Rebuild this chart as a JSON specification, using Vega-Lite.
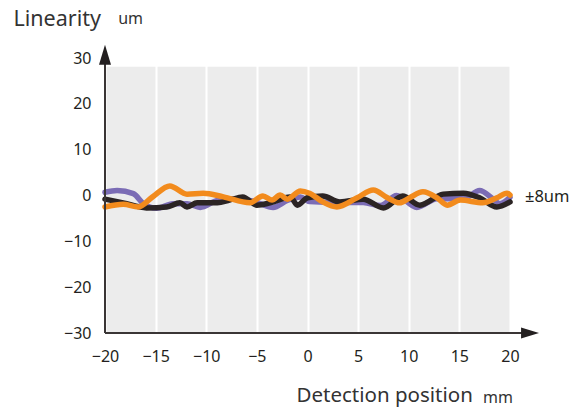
{
  "$schema": "https://vega.github.io/schema/vega-lite/v6.json",
  "width": 405,
  "height": 275,
  "autosize": {"type": "none"},
  "padding": {"left": 105, "top": 58, "right": 69, "bottom": 76},
  "background": "white",
  "config": {"view": {"stroke": null, "fill": "#ececec"}, "font": "Noto Sans"},
  "datasets": {
    "one": [{}],
    "lines": [
      {"series": "1", "position": -20, "value": 0.7},
      {"series": "1", "position": -18.8, "value": 1.1},
      {"series": "1", "position": -17.2, "value": 0.4},
      {"series": "1", "position": -16.2, "value": -1.8},
      {"series": "1", "position": -14.9, "value": -2.8},
      {"series": "1", "position": -13.3, "value": -1.8},
      {"series": "1", "position": -11.9, "value": -1.8},
      {"series": "1", "position": -10.6, "value": -2.6},
      {"series": "1", "position": -8.9, "value": -1.1},
      {"series": "1", "position": -6.7, "value": -0.7},
      {"series": "1", "position": -5.0, "value": -1.5},
      {"series": "1", "position": -3.4, "value": -2.6},
      {"series": "1", "position": -2.0, "value": -1.1},
      {"series": "1", "position": -0.7, "value": -0.3},
      {"series": "1", "position": 0.2, "value": -1.3},
      {"series": "1", "position": 3.2, "value": -1.5},
      {"series": "1", "position": 5.5, "value": -1.5},
      {"series": "1", "position": 7.2, "value": -2.2},
      {"series": "1", "position": 8.8, "value": 0},
      {"series": "1", "position": 10.8, "value": -2.6},
      {"series": "1", "position": 12.8, "value": -0.7},
      {"series": "1", "position": 15.4, "value": -0.7},
      {"series": "1", "position": 17.0, "value": 1.1},
      {"series": "1", "position": 18.3, "value": -0.7},
      {"series": "1", "position": 19.0, "value": -1.8},
      {"series": "1", "position": 20, "value": -0.4},
      {"series": "2", "position": -20, "value": -0.8},
      {"series": "2", "position": -18.2, "value": -1.6},
      {"series": "2", "position": -15.9, "value": -2.7},
      {"series": "2", "position": -13.9, "value": -2.5},
      {"series": "2", "position": -12.6, "value": -1.6},
      {"series": "2", "position": -11.9, "value": -2.5},
      {"series": "2", "position": -10.9, "value": -1.6},
      {"series": "2", "position": -8.9, "value": -1.6},
      {"series": "2", "position": -7.7, "value": -1.0},
      {"series": "2", "position": -6.4, "value": -0.3},
      {"series": "2", "position": -5.0, "value": -2.1},
      {"series": "2", "position": -3.7, "value": -1.6},
      {"series": "2", "position": -1.7, "value": -0.3},
      {"series": "2", "position": -1.0, "value": -2.1},
      {"series": "2", "position": 0, "value": -0.5},
      {"series": "2", "position": 1.5, "value": -0.1},
      {"series": "2", "position": 3.2, "value": -1.4},
      {"series": "2", "position": 5.5, "value": -0.8},
      {"series": "2", "position": 7.5, "value": -2.7},
      {"series": "2", "position": 9.4, "value": -0.1},
      {"series": "2", "position": 11.1, "value": -2.1},
      {"series": "2", "position": 13.4, "value": 0.3},
      {"series": "2", "position": 15.4, "value": 0.5},
      {"series": "2", "position": 17.0, "value": -0.5},
      {"series": "2", "position": 18.7, "value": -2.5},
      {"series": "2", "position": 20, "value": -1.4},
      {"series": "3", "position": -20, "value": -2.5},
      {"series": "3", "position": -18.2, "value": -1.9},
      {"series": "3", "position": -16.7, "value": -2.5},
      {"series": "3", "position": -15.3, "value": -0.3},
      {"series": "3", "position": -13.6, "value": 2.1},
      {"series": "3", "position": -11.9, "value": 0.3},
      {"series": "3", "position": -10.3, "value": 0.5},
      {"series": "3", "position": -8.3, "value": -0.3},
      {"series": "3", "position": -5.7, "value": -1.6},
      {"series": "3", "position": -4.4, "value": -0.1},
      {"series": "3", "position": -3.5, "value": -1.0},
      {"series": "3", "position": -2.7, "value": 0.1},
      {"series": "3", "position": -2.0, "value": -0.8},
      {"series": "3", "position": -0.7, "value": 1.0},
      {"series": "3", "position": 0.2, "value": 0.5},
      {"series": "3", "position": 1.5, "value": -1.4},
      {"series": "3", "position": 2.9, "value": -2.5},
      {"series": "3", "position": 4.9, "value": -0.5},
      {"series": "3", "position": 6.5, "value": 1.2},
      {"series": "3", "position": 7.9, "value": -0.5},
      {"series": "3", "position": 9.1, "value": -1.6},
      {"series": "3", "position": 10.1, "value": -0.5},
      {"series": "3", "position": 11.4, "value": 0.8},
      {"series": "3", "position": 12.8, "value": -0.5},
      {"series": "3", "position": 13.8, "value": -2.1},
      {"series": "3", "position": 15.1, "value": -1.0},
      {"series": "3", "position": 17.3, "value": -1.6},
      {"series": "3", "position": 18.7, "value": -0.5},
      {"series": "3", "position": 19.7, "value": 0.5},
      {"series": "3", "position": 20, "value": 0.1}
    ]
  },
  "layer": [
    {
      "data": {"name": "lines"},
      "mark": {"type": "line", "strokeWidth": 5.5, "interpolate": "monotone", "strokeCap": "round", "strokeJoin": "round"},
      "encoding": {
        "x": {
          "field": "position", "type": "quantitative",
          "scale": {"domain": [-20, 20], "nice": false, "zero": false},
          "axis": {
            "values": [-20, -15, -10, -5, 0, 5, 10, 15, 20],
            "domain": false, "ticks": false, "labelFlush": false,
            "grid": true, "gridColor": "white", "gridWidth": 2,
            "labelFontSize": 16, "labelColor": "#231f20", "labelPadding": 15,
            "title": "Detection position", "titleFontSize": 20.5, "titleFontWeight": "normal", "titleColor": "#333",
            "titleAlign": "left", "titleBaseline": "alphabetic", "titleX": 191, "titleY": 68
          }
        },
        "y": {
          "field": "value", "type": "quantitative",
          "scale": {"domain": [-30, 30], "nice": false, "zero": false},
          "axis": {
            "values": [-30, -20, -10, 0, 10, 20, 30],
            "domain": false, "ticks": false, "grid": false, "labelFlush": false,
            "labelFontSize": 16, "labelColor": "#231f20", "labelPadding": 14,
            "title": "Linearity", "titleFontSize": 21.5, "titleFontWeight": "normal", "titleColor": "#333",
            "titleAngle": 0, "titleAlign": "left", "titleBaseline": "alphabetic", "titleX": -92, "titleY": -33
          }
        },
        "color": {
          "field": "series", "type": "nominal",
          "scale": {"domain": ["1", "2", "3"], "range": ["#7b6cb5", "#2b2424", "#f28b1d"]},
          "legend": null
        }
      }
    },
    {
      "data": {"name": "one"},
      "mark": {"type": "rect", "color": "white"},
      "encoding": {"x": {"datum": -20.2}, "x2": {"datum": 20.3}, "y": {"datum": 28.1}, "y2": {"datum": 30}}
    },
    {
      "data": {"name": "one"},
      "mark": {"type": "rule", "color": "#3a3535", "strokeWidth": 2},
      "encoding": {"x": {"datum": -20}, "y": {"datum": -30}, "y2": {"datum": 29}}
    },
    {
      "data": {"name": "one"},
      "mark": {"type": "rule", "color": "#3a3535", "strokeWidth": 2},
      "encoding": {"x": {"datum": -20}, "x2": {"datum": 21.2}, "y": {"datum": -30}}
    },
    {
      "data": {"name": "one"},
      "mark": {"type": "point", "shape": "M0,-1L0.6,1L-0.6,1Z", "filled": true, "color": "#231f20", "size": 400, "opacity": 1},
      "encoding": {"x": {"datum": -20}, "y": {"datum": 30.7}}
    },
    {
      "data": {"name": "one"},
      "mark": {"type": "point", "shape": "M1,0L-1,0.6L-1,-0.6Z", "filled": true, "color": "#231f20", "size": 324, "opacity": 1},
      "encoding": {"x": {"datum": 21.98}, "y": {"datum": -30}}
    },
    {
      "data": {"name": "one"},
      "mark": {"type": "text", "text": "um", "fontSize": 16, "align": "left", "baseline": "alphabetic", "color": "#333"},
      "encoding": {"x": {"datum": -18.7}, "y": {"datum": 37.4}}
    },
    {
      "data": {"name": "one"},
      "mark": {"type": "text", "text": "mm", "fontSize": 16, "align": "left", "baseline": "alphabetic", "color": "#333"},
      "encoding": {"x": {"datum": 17.33}, "y": {"datum": -45.3}}
    },
    {
      "data": {"name": "one"},
      "mark": {"type": "text", "text": "±8um", "fontSize": 16.5, "align": "left", "baseline": "middle", "color": "#231f20"},
      "encoding": {"x": {"datum": 21.48}, "y": {"datum": -0.3}}
    }
  ]
}
